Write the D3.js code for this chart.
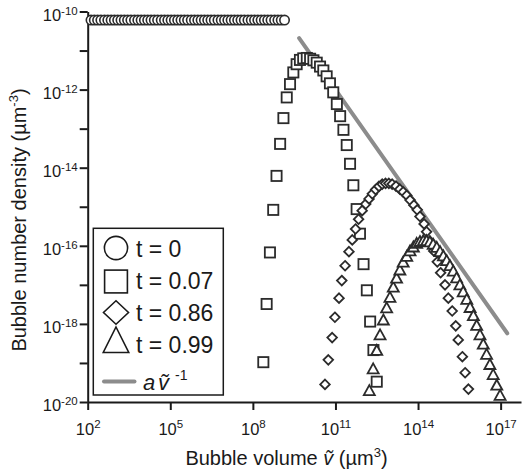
<!DOCTYPE html>
<html lang="en">
<head>
<meta charset="utf-8">
<script src="https://d3js.org/d3.v7.min.js"></script>
<style>
  body { margin: 0; background: #fff; }
  text { font-family: "Liberation Sans", Arial, Helvetica, sans-serif; fill: #1a1a1a; }
</style>
</head>
<body>
<script>
// every point is [log10 volume, log10 number density]
const t0 = [
  [2.12,-10.22],[2.24,-10.22],[2.36,-10.22],[2.48,-10.22],[2.61,-10.22],[2.73,-10.22],[2.85,-10.22],[2.97,-10.22],[3.09,-10.22],[3.21,-10.22],
  [3.33,-10.22],[3.45,-10.22],[3.57,-10.22],[3.70,-10.22],[3.82,-10.22],[3.94,-10.22],[4.06,-10.22],[4.18,-10.22],[4.30,-10.22],[4.42,-10.22],
  [4.54,-10.22],[4.67,-10.22],[4.79,-10.22],[4.91,-10.22],[5.03,-10.22],[5.15,-10.22],[5.27,-10.22],[5.39,-10.22],[5.51,-10.22],[5.63,-10.22],
  [5.76,-10.22],[5.88,-10.22],[6.00,-10.22],[6.12,-10.22],[6.24,-10.22],[6.36,-10.22],[6.48,-10.22],[6.60,-10.22],[6.73,-10.22],[6.85,-10.22],
  [6.97,-10.22],[7.09,-10.22],[7.21,-10.22],[7.33,-10.22],[7.45,-10.22],[7.57,-10.22],[7.69,-10.22],[7.82,-10.22],[7.94,-10.22],[8.06,-10.22],
  [8.18,-10.22],[8.30,-10.22],[8.42,-10.22],[8.54,-10.22],[8.66,-10.22],[8.79,-10.22],[8.91,-10.22],[9.03,-10.22],[9.15,-10.22]
];
const t007 = [
  [8.38,-18.98],[8.50,-17.49],[8.62,-16.17],[8.74,-15.08],[8.86,-14.21],[8.99,-13.39],[9.11,-12.73],[9.23,-12.20],[9.35,-11.86],[9.47,-11.56],
  [9.59,-11.35],[9.71,-11.24],[9.83,-11.20],[9.96,-11.19],[10.08,-11.21],[10.20,-11.25],[10.32,-11.31],[10.44,-11.41],[10.56,-11.51],[10.68,-11.66],
  [10.80,-11.84],[10.92,-12.07],[11.05,-12.37],[11.17,-12.68],[11.29,-13.03],[11.41,-13.42],[11.53,-13.90],[11.65,-14.45],[11.77,-15.06],[11.89,-15.69],
  [12.02,-16.47],[12.14,-17.14],[12.26,-17.94],[12.38,-18.67],[12.50,-19.48]
];
const t086 = [
  [10.62,-19.55],[10.74,-18.92],[10.88,-18.35],[10.98,-17.83],[11.13,-17.34],[11.23,-16.89],[11.35,-16.51],[11.49,-16.15],[11.61,-15.85],[11.73,-15.57],
  [11.84,-15.32],[11.97,-15.10],[12.10,-14.93],[12.22,-14.80],[12.34,-14.67],[12.46,-14.56],[12.58,-14.48],[12.70,-14.42],[12.82,-14.40],[12.94,-14.40],
  [13.06,-14.42],[13.20,-14.47],[13.34,-14.55],[13.46,-14.62],[13.59,-14.71],[13.71,-14.83],[13.85,-14.96],[13.97,-15.08],[14.07,-15.25],[14.22,-15.44],
  [14.31,-15.64],[14.43,-15.88],[14.57,-16.13],[14.70,-16.41],[14.82,-16.69],[14.98,-17.00],[15.10,-17.34],[15.24,-17.67],[15.37,-18.05],[15.46,-18.41],
  [15.61,-18.84],[15.71,-19.25],[15.83,-19.67]
];
const t099 = [
  [12.23,-19.74],[12.37,-19.18],[12.50,-18.71],[12.62,-18.31],[12.74,-17.93],[12.86,-17.62],[12.98,-17.35],[13.10,-17.09],[13.22,-16.86],[13.34,-16.65],
  [13.46,-16.45],[13.59,-16.30],[13.71,-16.16],[13.83,-16.06],[13.95,-15.97],[14.07,-15.92],[14.19,-15.90],[14.31,-15.90],[14.43,-15.93],[14.55,-15.99],
  [14.68,-16.07],[14.80,-16.18],[14.92,-16.29],[15.04,-16.41],[15.16,-16.54],[15.28,-16.68],[15.40,-16.85],[15.52,-17.03],[15.64,-17.21],[15.77,-17.40],
  [15.89,-17.61],[16.01,-17.82],[16.13,-18.07],[16.25,-18.31],[16.37,-18.55],[16.49,-18.81],[16.61,-19.07],[16.73,-19.33],[16.86,-19.60],[16.98,-19.86]
];
// a / v line, a = 0.1
const powerLine = [[9.68,-10.68],[17.24,-18.24]];

const xTickExp = [2, 5, 8, 11, 14, 17];
const yTickExp = [-10, -11, -12, -13, -14, -15, -16, -17, -18, -19, -20];
const yLabelExp = [-10, -12, -14, -16, -18, -20];
const legendLabels = ["t = 0", "t = 0.07", "t = 0.86", "t = 0.99"];

const width = 524, height = 473;
const ink = "#2b2b2b";

const svg = d3.select("body").append("svg")
    .attr("width", width)
    .attr("height", height);

const x = d3.scaleLog().domain([1e2, Math.pow(10, 17.74)]).range([87.7, 521]);
const y = d3.scaleLog().domain([1e-20, 1e-10]).range([402, 11.5]);
const px = d => x(Math.pow(10, d[0]));
const py = d => y(Math.pow(10, d[1]));

// X axis
const xAxis = svg.append("g")
    .attr("transform", "translate(0,402)")
    .attr("color", "#1a1a1a")
    .call(d3.axisBottom(x)
        .tickValues(xTickExp.map(e => Math.pow(10, e)))
        .tickSize(8).tickSizeOuter(0).tickFormat(""));

xAxis.selectAll(".tick").each(function(d, i) {
    const t = d3.select(this).append("text")
        .attr("y", 33).attr("text-anchor", "middle").attr("font-size", 16.5);
    t.append("tspan").text("10");
    t.append("tspan").attr("dy", -7).attr("font-size", 11.5).text(xTickExp[i]);
});

// Y axis
const yAxis = svg.append("g")
    .attr("transform", "translate(87.7,0)")
    .attr("color", "#1a1a1a")
    .call(d3.axisLeft(y)
        .tickValues(yTickExp.map(e => Math.pow(10, e)))
        .tickSize(8).tickSizeOuter(0).tickFormat(""));

yAxis.selectAll(".tick").each(function(d, i) {
    const e = yTickExp[i];
    if (yLabelExp.indexOf(e) < 0) return;
    const t = d3.select(this).append("text")
        .attr("x", -10).attr("y", 8.5).attr("text-anchor", "end").attr("font-size", 16.5);
    t.append("tspan").text("10");
    t.append("tspan").attr("dy", -6).attr("font-size", 11.5).text(e);
});

svg.selectAll(".domain, .tick line").attr("stroke-width", 2);

// axis titles
const xt = svg.append("text")
    .attr("x", 286.5).attr("y", 465)
    .attr("text-anchor", "middle").attr("font-size", 20);
xt.append("tspan").text("Bubble volume ");
xt.append("tspan").attr("font-style", "italic").text("\u1E7D");
xt.append("tspan").text(" (\u00B5m");
xt.append("tspan").attr("dy", -8).attr("font-size", 13).text("3");
xt.append("tspan").attr("dy", 8).text(")");

const yt = svg.append("text")
    .attr("transform", "translate(25.5,220) rotate(-90)")
    .attr("text-anchor", "middle").attr("font-size", 20);
yt.append("tspan").text("Bubble number density (\u00B5m");
yt.append("tspan").attr("dy", -8).attr("font-size", 13).text("-3");
yt.append("tspan").attr("dy", 8).text(")");

// a v^-1 line
svg.append("path")
    .datum(powerLine)
    .attr("fill", "none")
    .attr("stroke", "#8c8c8c")
    .attr("stroke-width", 4)
    .attr("stroke-linecap", "round")
    .attr("d", d3.line().x(px).y(py));

// markers
function trianglePath(w, h) {
    return "M0," + (-2 * h / 3) + "L" + (w / 2) + "," + (h / 3) + "L" + (-w / 2) + "," + (h / 3) + "Z";
}
function diamondPath(w, h) {
    return "M0," + (-h / 2) + "L" + (w / 2) + ",0L0," + (h / 2) + "L" + (-w / 2) + ",0Z";
}

svg.append("g").selectAll("circle")
    .data(t0).join("circle")
    .attr("cx", px).attr("cy", py).attr("r", 4.7)
    .attr("fill", "#fff").attr("stroke", ink).attr("stroke-width", 1.6);

svg.append("g").selectAll("rect")
    .data(t007).join("rect")
    .attr("x", d => px(d) - 5.1).attr("y", d => py(d) - 5.1)
    .attr("width", 10.2).attr("height", 10.2)
    .attr("fill", "#fff").attr("stroke", ink).attr("stroke-width", 1.8);

svg.append("g").selectAll("path")
    .data(t086).join("path")
    .attr("transform", d => "translate(" + px(d) + "," + py(d) + ")")
    .attr("d", diamondPath(9.6, 9.6))
    .attr("fill", "#fff").attr("stroke", ink).attr("stroke-width", 1.8);

svg.append("g").selectAll("path")
    .data(t099).join("path")
    .attr("transform", d => "translate(" + px(d) + "," + py(d) + ")")
    .attr("d", trianglePath(11, 10))
    .attr("fill", "#fff").attr("stroke", ink).attr("stroke-width", 1.8);

// legend
const lg = svg.append("g");
lg.append("rect")
    .attr("x", 93.3).attr("y", 228.3).attr("width", 130).attr("height", 166.7)
    .attr("fill", "#fff").attr("stroke", "#1a1a1a").attr("stroke-width", 1.5);

const rowY = [248, 281.5, 312.5, 344];
const lx = 116;
lg.append("circle").attr("cx", lx).attr("cy", rowY[0]).attr("r", 11.6)
    .attr("fill", "none").attr("stroke", "#1a1a1a").attr("stroke-width", 1.6);
lg.append("rect").attr("x", lx - 11.4).attr("y", rowY[1] - 11.4).attr("width", 22.8).attr("height", 22.8)
    .attr("fill", "none").attr("stroke", "#1a1a1a").attr("stroke-width", 1.6);
lg.append("path").attr("transform", "translate(" + lx + "," + rowY[2] + ")").attr("d", diamondPath(25, 23.5))
    .attr("fill", "none").attr("stroke", "#1a1a1a").attr("stroke-width", 1.6);
lg.append("path").attr("transform", "translate(" + lx + "," + rowY[3] + ")").attr("d", trianglePath(25.5, 25.5))
    .attr("fill", "none").attr("stroke", "#1a1a1a").attr("stroke-width", 1.6);
lg.append("line").attr("x1", 104).attr("x2", 134.5).attr("y1", 381.5).attr("y2", 381.5)
    .attr("stroke", "#8c8c8c").attr("stroke-width", 4).attr("stroke-linecap", "round");

const textY = [256.7, 288.6, 321.2, 353.3];
lg.selectAll("text.lab")
    .data(legendLabels).join("text")
    .attr("class", "lab")
    .attr("x", 136).attr("y", (d, i) => textY[i])
    .attr("font-size", 23)
    .text(d => d);

const la = lg.append("text").attr("x", 143).attr("y", 390).attr("font-size", 22);
la.append("tspan").attr("font-style", "italic").text("a");
la.append("tspan").attr("x", 158).attr("font-style", "italic").text("\u1E7D");
la.append("tspan").attr("x", 175).attr("dy", -10).attr("font-size", 14).text("-1");
</script>
</body>
</html>
